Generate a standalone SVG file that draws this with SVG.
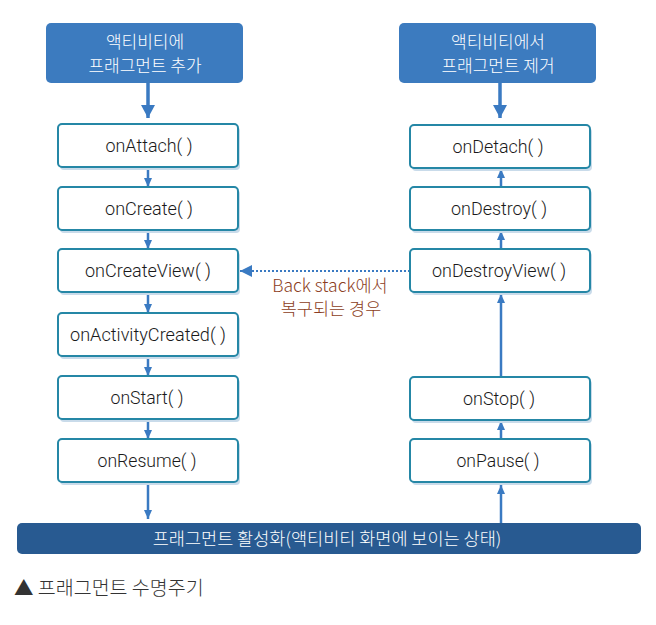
<svg xmlns="http://www.w3.org/2000/svg" width="656" height="625" viewBox="0 0 656 625">
<defs>
<style>
.hdr{fill:#3c7bbf;}
.bar{fill:#285a91;}
.shadow{fill:#c9dbea;}
.box{fill:#ffffff;stroke:#2587a6;stroke-width:2;}
.lbl{font-family:Roboto,"Liberation Sans","Noto Sans CJK KR",sans-serif;font-weight:300;font-size:18px;fill:#1a1a1a;text-anchor:middle;}
.wt{font-family:"Noto Sans CJK KR","Noto Sans",sans-serif;font-weight:300;font-size:17px;fill:#ffffff;text-anchor:middle;}
.wb{font-family:"Noto Sans CJK KR","Noto Sans",sans-serif;font-weight:300;font-size:17.5px;fill:#ffffff;text-anchor:middle;}
.bs{font-family:"Noto Sans CJK KR","Noto Sans",sans-serif;font-weight:300;font-size:17.5px;fill:#8b3d22;text-anchor:middle;}
.cap{font-family:"Noto Sans CJK KR","Noto Sans",sans-serif;font-weight:300;font-size:19.5px;fill:#333333;}
.ln{stroke:#3a7ac2;stroke-width:2.5;fill:none;}
.big{stroke:#3a7ac2;stroke-width:3.5;fill:none;}
.dot{stroke:#3a7ac2;stroke-width:2;stroke-dasharray:2 2;fill:none;}
</style>
<marker id="ah" markerUnits="userSpaceOnUse" markerWidth="10" markerHeight="8" refX="9" refY="4" orient="auto">
<path d="M0,0 L9,4 L0,8 Z" fill="#3a7ac2"/>
</marker>
<marker id="ahb" markerUnits="userSpaceOnUse" markerWidth="14" markerHeight="16" refX="13" refY="7" orient="auto">
<path d="M0,0 L13,7 L0,14 Z" fill="#3a7ac2"/>
</marker>
<marker id="ahd" markerUnits="userSpaceOnUse" markerWidth="13" markerHeight="13" refX="12" refY="6" orient="auto">
<path d="M0,0 L12,6 L0,12 Z" fill="#3a7ac2"/>
</marker>
</defs>
<rect width="656" height="625" fill="#ffffff"/>

<g id="connectors">
<line class="big" x1="148" y1="83" x2="148" y2="118" marker-end="url(#ahb)"/>
<line class="ln" x1="148" y1="168" x2="148" y2="187" marker-end="url(#ah)"/>
<line class="ln" x1="148" y1="231" x2="148" y2="249" marker-end="url(#ah)"/>
<line class="ln" x1="148" y1="293" x2="148" y2="313" marker-end="url(#ah)"/>
<line class="ln" x1="148" y1="357" x2="148" y2="376" marker-end="url(#ah)"/>
<line class="ln" x1="148" y1="420" x2="148" y2="439" marker-end="url(#ah)"/>
<line class="ln" x1="148" y1="484" x2="148" y2="519" marker-end="url(#ah)"/>
<line class="big" x1="500" y1="83" x2="500" y2="118" marker-end="url(#ahb)"/>
<line class="ln" x1="501" y1="187" x2="501" y2="169" marker-end="url(#ah)"/>
<line class="ln" x1="501" y1="249" x2="501" y2="231" marker-end="url(#ah)"/>
<line class="ln" x1="501" y1="377" x2="501" y2="294" marker-end="url(#ah)"/>
<line class="ln" x1="501" y1="439" x2="501" y2="421" marker-end="url(#ah)"/>
<line class="ln" x1="501" y1="523" x2="501" y2="485" marker-end="url(#ah)"/>
<line class="dot" x1="410" y1="271" x2="240" y2="271" marker-end="url(#ahd)"/>
</g>

<g id="add-header">
<rect class="hdr" x="46" y="23" width="197" height="60" rx="5"/>
<text class="wt" x="145" y="48">액티비티에</text>
<text class="wt" x="145" y="72">프래그먼트 추가</text>
</g>
<g id="remove-header">
<rect class="hdr" x="399" y="23" width="197" height="60" rx="5"/>
<text class="wt" x="498" y="48">액티비티에서</text>
<text class="wt" x="498" y="72">프래그먼트 제거</text>
</g>

<g id="onAttach">
<rect class="shadow" x="60" y="127" width="180" height="43" rx="4"/>
<rect class="box" x="58" y="124" width="180" height="43" rx="4"/>
<text class="lbl" x="149" y="152" textLength="87" lengthAdjust="spacingAndGlyphs">onAttach( )</text>
</g>
<g id="onCreate">
<rect class="shadow" x="60" y="190" width="180" height="43" rx="4"/>
<rect class="box" x="58" y="187" width="180" height="43" rx="4"/>
<text class="lbl" x="149" y="215" textLength="88" lengthAdjust="spacingAndGlyphs">onCreate( )</text>
</g>
<g id="onCreateView">
<rect class="shadow" x="60" y="252" width="180" height="43" rx="4"/>
<rect class="box" x="58" y="249" width="180" height="43" rx="4"/>
<text class="lbl" x="148" y="277" textLength="126" lengthAdjust="spacingAndGlyphs">onCreateView( )</text>
</g>
<g id="onActivityCreated">
<rect class="shadow" x="60" y="316" width="180" height="43" rx="4"/>
<rect class="box" x="58" y="313" width="180" height="43" rx="4"/>
<text class="lbl" x="148" y="341" textLength="156" lengthAdjust="spacingAndGlyphs">onActivityCreated( )</text>
</g>
<g id="onStart">
<rect class="shadow" x="60" y="379" width="180" height="43" rx="4"/>
<rect class="box" x="58" y="376" width="180" height="43" rx="4"/>
<text class="lbl" x="147" y="404" textLength="73" lengthAdjust="spacingAndGlyphs">onStart( )</text>
</g>
<g id="onResume">
<rect class="shadow" x="60" y="442" width="180" height="43" rx="4"/>
<rect class="box" x="58" y="439" width="180" height="43" rx="4"/>
<text class="lbl" x="147" y="467" textLength="99" lengthAdjust="spacingAndGlyphs">onResume( )</text>
</g>

<g id="onDetach">
<rect class="shadow" x="412" y="128" width="180" height="43" rx="4"/>
<rect class="box" x="410" y="125" width="180" height="43" rx="4"/>
<text class="lbl" x="498" y="153" textLength="91" lengthAdjust="spacingAndGlyphs">onDetach( )</text>
</g>
<g id="onDestroy">
<rect class="shadow" x="412" y="190" width="180" height="43" rx="4"/>
<rect class="box" x="410" y="187" width="180" height="43" rx="4"/>
<text class="lbl" x="499" y="215" textLength="96" lengthAdjust="spacingAndGlyphs">onDestroy( )</text>
</g>
<g id="onDestroyView">
<rect class="shadow" x="412" y="252" width="180" height="43" rx="4"/>
<rect class="box" x="410" y="249" width="180" height="43" rx="4"/>
<text class="lbl" x="499" y="277" textLength="134" lengthAdjust="spacingAndGlyphs">onDestroyView( )</text>
</g>
<g id="onStop">
<rect class="shadow" x="412" y="380" width="180" height="43" rx="4"/>
<rect class="box" x="410" y="377" width="180" height="43" rx="4"/>
<text class="lbl" x="499" y="405" textLength="72" lengthAdjust="spacingAndGlyphs">onStop( )</text>
</g>
<g id="onPause">
<rect class="shadow" x="412" y="442" width="180" height="43" rx="4"/>
<rect class="box" x="410" y="439" width="180" height="43" rx="4"/>
<text class="lbl" x="498" y="467" textLength="83" lengthAdjust="spacingAndGlyphs">onPause( )</text>
</g>

<g id="backstack-label">
<text class="bs" x="330" y="292">Back stack에서</text>
<text class="bs" x="331" y="315">복구되는 경우</text>
</g>

<g id="active-bar">
<rect class="bar" x="17" y="523" width="624" height="31" rx="5"/>
<text class="wb" x="327" y="545">프래그먼트 활성화(액티비티 화면에 보이는 상태)</text>
</g>

<g id="caption">
<text class="cap" x="14" y="595">▲ 프래그먼트 수명주기</text>
</g>
</svg>
